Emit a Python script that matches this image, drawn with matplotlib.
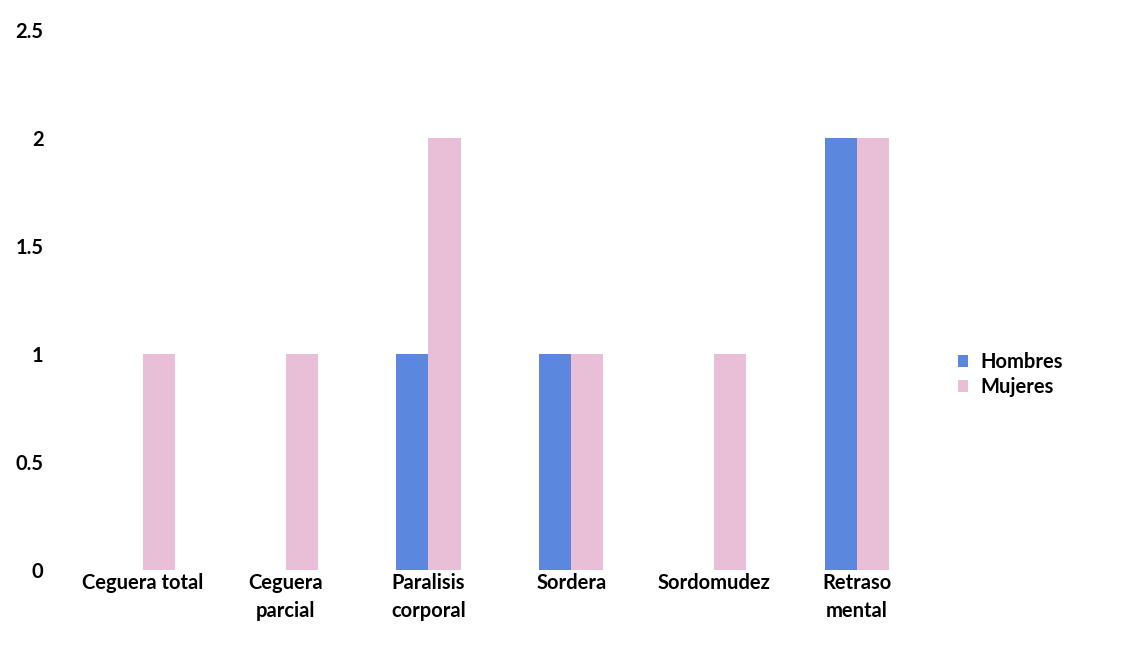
import matplotlib
matplotlib.use('Agg')
import matplotlib.pyplot as plt
import numpy as np

categories = ['Ceguera total', 'Ceguera\nparcial', 'Paralisis\ncorporal',
              'Sordera', 'Sordomudez', 'Retraso\nmental']
hombres = [0, 0, 1, 1, 0, 2]
mujeres = [1, 1, 2, 1, 1, 2]
yTicks = [0, 0.5, 1, 1.5, 2, 2.5]
yTickLabels = ['0', '0.5', '1', '1.5', '2', '2.5']

blue = '#5b87df'
pink = '#e8bfd6'

plt.rcParams['font.family'] = ['Lato', 'DejaVu Sans']

fig = plt.figure(figsize=(11.31, 6.51), dpi=100)
ax = fig.add_axes([0.063, 0.124, 0.758, 0.83])

x = np.arange(len(categories))
w = 0.225
ax.bar(x - w / 2, hombres, w, color=blue, label='Hombres')
ax.bar(x + w / 2, mujeres, w, color=pink, label='Mujeres')

ax.set_xlim(-0.5, len(categories) - 0.5)
ax.set_ylim(0, 2.5)
ax.set_yticks(yTicks)
ax.set_yticklabels(yTickLabels, fontsize=14.5, fontweight='bold')
ax.set_xticks(x)
ax.set_xticklabels(categories, fontsize=14.5, fontweight='bold', linespacing=1.5)
ax.tick_params(axis='x', length=0, pad=2)
ax.tick_params(axis='y', length=0, pad=20)
for lbl in ax.get_yticklabels():
    lbl.set_horizontalalignment('right')
for s in ax.spines.values():
    s.set_visible(False)

ax.legend(loc='center left', bbox_to_anchor=(1.013, 0.362), frameon=False,
          prop={'size': 14.5, 'weight': 'bold'}, handlelength=0.5, handleheight=0.5,
          handletextpad=0.6, labelspacing=0.25)

fig.savefig('out.png', dpi=100)
